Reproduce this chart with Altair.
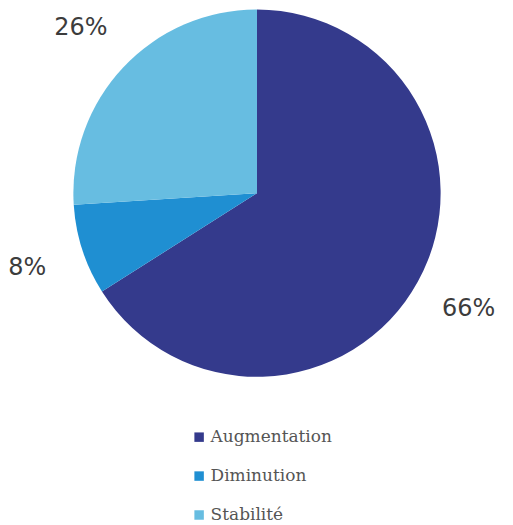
import altair as alt
import pandas as pd

categories = ["Augmentation", "Diminution", "Stabilité"]
values = [66, 8, 26]
labels = ["66%", "8%", "26%"]
colors = ["#343a8c", "#1f8fd2", "#67bde1"]

df = pd.DataFrame({"cat": categories, "val": values, "lab": labels, "ord": [0, 1, 2]})

base = alt.Chart(df).encode(
    theta=alt.Theta("val:Q", stack=True),
    order=alt.Order("ord:Q"),
)

pie = base.mark_arc(outerRadius=184).encode(
    color=alt.Color(
        "cat:N",
        scale=alt.Scale(domain=categories, range=colors),
        legend=alt.Legend(
            title=None,
            orient="none",
            legendX=182,
            legendY=421,
            symbolType="square",
            symbolSize=90,
            labelFont="DejaVu Serif, Liberation Serif, serif",
            labelFontSize=17,
            labelColor="#555555",
            labelOffset=3,
            rowPadding=21,
        ),
    )
)

text = base.mark_text(radius=242, font="DejaVu Sans", fontSize=24, color="#3c3c3c").encode(
    text="lab:N"
)

chart = (
    alt.layer(pie, text)
    .properties(width=497, height=370, padding=0)
    .configure_view(stroke=None)
)

chart.save("out.html", embed_options={"renderer": "svg", "actions": False})
